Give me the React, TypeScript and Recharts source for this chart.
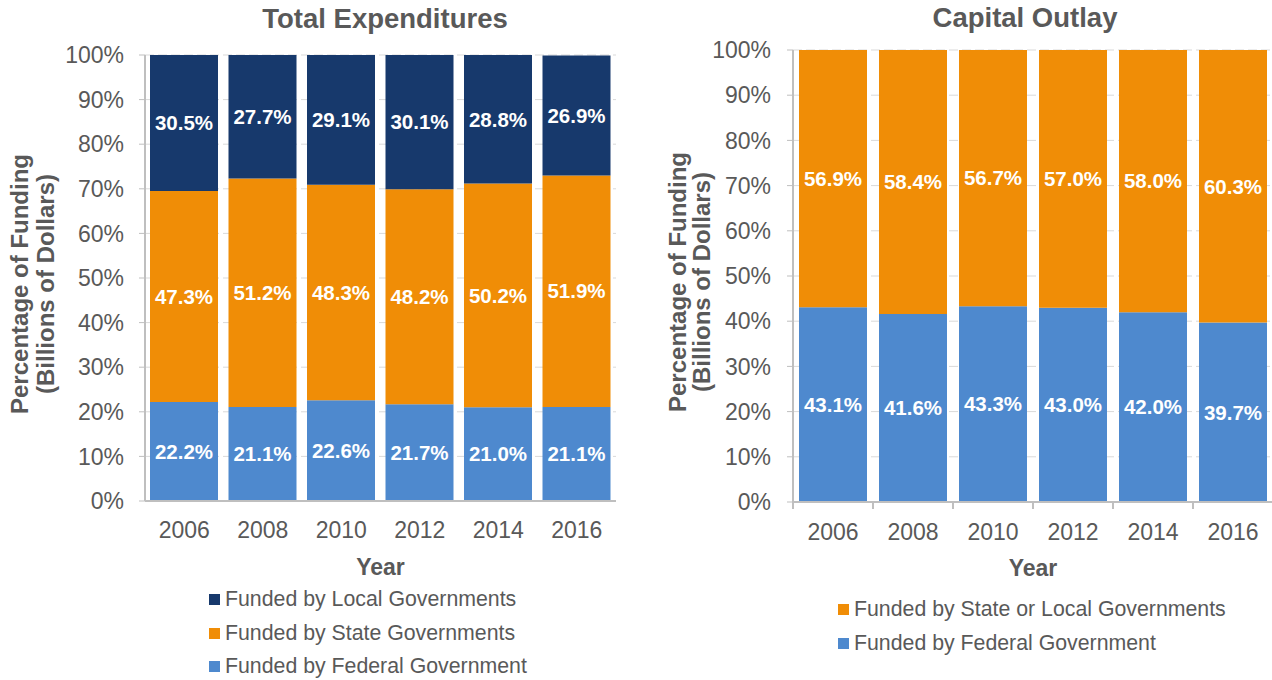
import React from 'react';
import {
  BarChart,
  Bar,
  XAxis,
  YAxis,
  CartesianGrid,
  LabelList,
  Label,
} from 'recharts';

const years = ['2006', '2008', '2010', '2012', '2014', '2016'];

// Total Expenditures shares (%)
const totalFederal = [22.2, 21.1, 22.6, 21.7, 21.0, 21.1];
const totalState = [47.3, 51.2, 48.3, 48.2, 50.2, 51.9];
const totalLocal = [30.5, 27.7, 29.1, 30.1, 28.8, 26.9];

// Capital Outlay shares (%)
const capitalFederal = [43.1, 41.6, 43.3, 43.0, 42.0, 39.7];
const capitalStateLocal = [56.9, 58.4, 56.7, 57.0, 58.0, 60.3];

const percentTicks = [0, 10, 20, 30, 40, 50, 60, 70, 80, 90, 100];

const NAVY = '#17396C';
const ORANGE = '#F08D06';
const BLUE = '#4E89CE';
const TEXT = '#595959';
const AXIS = '#BFBFBF';
const GRID = '#D9D9D9';
const FONT = 'Arial, "Liberation Sans", sans-serif';

const totalData = years.map((year, i) => ({
  year,
  federal: totalFederal[i],
  state: totalState[i],
  local: totalLocal[i],
}));

const capitalData = years.map((year, i) => ({
  year,
  federal: capitalFederal[i],
  stateLocal: capitalStateLocal[i],
}));

const fmtPct = (v: any) => `${Number(v).toFixed(1)}%`;

const YTitle = ({ viewBox, x1, x2 }: any) => {
  const cy = viewBox.y + viewBox.height / 2 + 6;
  const style = { fontFamily: FONT, fontSize: 24, fontWeight: 700, fill: TEXT };
  return (
    <g>
      <text
        x={x1}
        y={cy}
        transform={`rotate(-90, ${x1}, ${cy})`}
        textAnchor="middle"
        dominantBaseline="central"
        style={style}
      >
        Percentage of Funding
      </text>
      <text
        x={x2}
        y={cy}
        transform={`rotate(-90, ${x2}, ${cy})`}
        textAnchor="middle"
        dominantBaseline="central"
        style={style}
      >
        (Billions of Dollars)
      </text>
    </g>
  );
};

const XTitle = ({ viewBox }: any) => (
  <text
    x={viewBox.x + viewBox.width / 2}
    y={viewBox.y + 74}
    textAnchor="middle"
    style={{ fontFamily: FONT, fontSize: 23, fontWeight: 700, fill: TEXT }}
  >
    Year
  </text>
);

// category tick with separator marks at the band edges
const BoundaryTick = (props: any) => {
  const { x, y, payload, index, half, count } = props;
  const axisY = y - 22;
  return (
    <g>
      <line x1={x - half} x2={x - half} y1={axisY} y2={axisY + 7} stroke={AXIS} strokeWidth={2} />
      {index === count - 1 && (
        <line x1={x + half} x2={x + half} y1={axisY} y2={axisY + 7} stroke={AXIS} strokeWidth={2} />
      )}
      <text
        x={x}
        y={y}
        dy="0.71em"
        textAnchor="middle"
        style={{ fontFamily: FONT, fontSize: 23, fill: TEXT }}
      >
        {payload.value}
      </text>
    </g>
  );
};

const Legend = ({ items, left, top }: { items: { name: string; color: string }[]; left: number; top: number }) => (
  <div style={{ position: 'absolute', left, top }}>
    {items.map((it) => (
      <div
        key={it.name}
        style={{ display: 'flex', alignItems: 'center', height: 33.5, fontFamily: FONT, fontSize: 21.3, color: TEXT }}
      >
        <span style={{ width: 11, height: 11, background: it.color, marginRight: 5, display: 'inline-block' }} />
        <span>{it.name}</span>
      </div>
    ))}
  </div>
);

const tickStyle = { fontFamily: FONT, fontSize: 23, fill: TEXT };
const barLabel = { fontFamily: FONT, fontSize: 20.5, fontWeight: 700, fill: '#ffffff' };

export default function App() {
  return (
    <div
      style={{
        position: 'absolute',
        left: 0,
        top: 0,
        width: 1272,
        height: 680,
        overflow: 'hidden',
        background: '#fff',
        fontFamily: FONT,
      }}
    >
      <div
        style={{ position: 'absolute', left: 0, top: 3, width: 770, textAlign: 'center', fontSize: 27.5, fontWeight: 700, color: TEXT }}
      >
        Total Expenditures
      </div>
      <div
        style={{ position: 'absolute', left: 780, top: 2, width: 490, textAlign: 'center', fontSize: 27.5, fontWeight: 700, color: TEXT }}
      >
        Capital Outlay
      </div>

      <div style={{ position: 'absolute', left: 0, top: 0 }}>
        <BarChart
          width={640}
          height={680}
          data={totalData}
          margin={{ top: 55, right: 24, bottom: 149, left: 2 }}
          barSize={68}
        >
          <CartesianGrid vertical={false} stroke={GRID} strokeDasharray="9 4" />
          <XAxis
            dataKey="year"
            height={30}
            tick={tickStyle}
            tickLine={false}
            tickSize={6}
            tickMargin={15}
            axisLine={{ stroke: AXIS, strokeWidth: 2 }}
          >
            <Label content={<XTitle />} />
          </XAxis>
          <YAxis
            width={143}
            domain={[0, 100]}
            ticks={percentTicks}
            allowDataOverflow
            tickFormatter={(v) => `${v}%`}
            tick={tickStyle}
            tickSize={6}
            tickMargin={15}
            tickLine={{ stroke: AXIS }}
            axisLine={{ stroke: AXIS, strokeWidth: 2 }}
          >
            <Label content={<YTitle x1={19} x2={45} />} />
          </YAxis>
          <Bar dataKey="federal" stackId="a" fill={BLUE} isAnimationActive={false}>
            <LabelList dataKey="federal" position="center" formatter={fmtPct} style={barLabel} />
          </Bar>
          <Bar dataKey="state" stackId="a" fill={ORANGE} isAnimationActive={false}>
            <LabelList dataKey="state" position="center" formatter={fmtPct} style={barLabel} />
          </Bar>
          <Bar dataKey="local" stackId="a" fill={NAVY} isAnimationActive={false}>
            <LabelList dataKey="local" position="center" formatter={fmtPct} style={barLabel} />
          </Bar>
        </BarChart>
      </div>

      <div style={{ position: 'absolute', left: 640, top: 0 }}>
        <BarChart
          width={640}
          height={680}
          data={capitalData}
          margin={{ top: 50, right: 7, bottom: 148, left: 0 }}
          barSize={68}
        >
          <CartesianGrid vertical={false} stroke={GRID} strokeDasharray="9 4" />
          <XAxis
            dataKey="year"
            height={30}
            tick={<BoundaryTick half={40} count={years.length} />}
            tickLine={false}
            tickSize={6}
            tickMargin={16}
            axisLine={{ stroke: AXIS, strokeWidth: 2 }}
          >
            <Label content={<XTitle />} />
          </XAxis>
          <YAxis
            width={153}
            domain={[0, 100]}
            ticks={percentTicks}
            allowDataOverflow
            tickFormatter={(v) => `${v}%`}
            tick={tickStyle}
            tickSize={6}
            tickMargin={16}
            tickLine={{ stroke: AXIS }}
            axisLine={{ stroke: AXIS, strokeWidth: 2 }}
          >
            <Label content={<YTitle x1={37} x2={61} />} />
          </YAxis>
          <Bar dataKey="federal" stackId="b" fill={BLUE} isAnimationActive={false}>
            <LabelList dataKey="federal" position="center" formatter={fmtPct} style={barLabel} />
          </Bar>
          <Bar dataKey="stateLocal" stackId="b" fill={ORANGE} isAnimationActive={false}>
            <LabelList dataKey="stateLocal" position="center" formatter={fmtPct} style={barLabel} />
          </Bar>
        </BarChart>
      </div>

      <Legend
        left={209}
        top={583}
        items={[
          { name: 'Funded by Local Governments', color: NAVY },
          { name: 'Funded by State Governments', color: ORANGE },
          { name: 'Funded by Federal Government', color: BLUE },
        ]}
      />
      <Legend
        left={838}
        top={593}
        items={[
          { name: 'Funded by State or Local Governments', color: ORANGE },
          { name: 'Funded by Federal Government', color: BLUE },
        ]}
      />
    </div>
  );
}
